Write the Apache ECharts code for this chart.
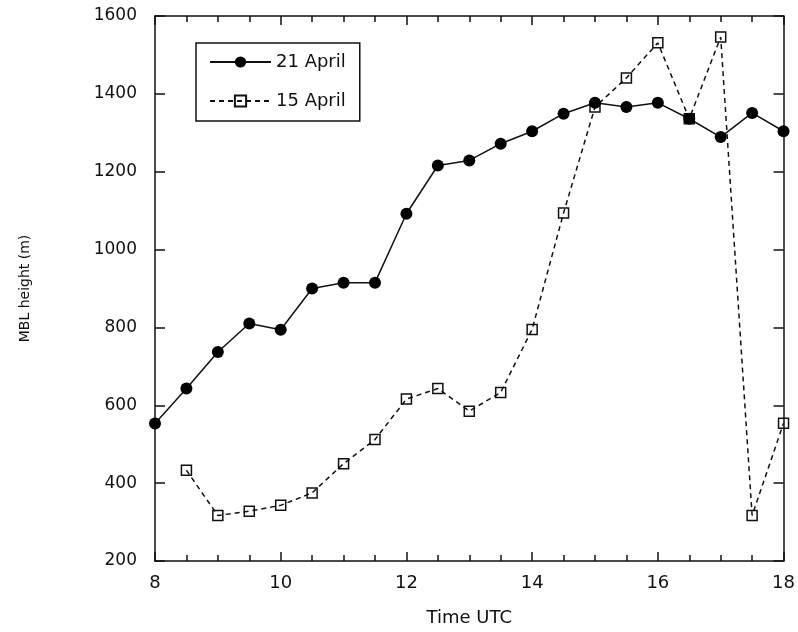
<!DOCTYPE html>
<html>
<head>
<meta charset="utf-8">
<script src="https://cdn.jsdelivr.net/npm/echarts@6/dist/echarts.min.js"></script>
<style>html,body{margin:0;padding:0;background:#fff}#c{width:798px;height:632px}</style>
</head>
<body>
<div id="c"></div>
<script>
var times21 = [8, 8.5, 9, 9.5, 10, 10.5, 11, 11.5, 12, 12.5, 13, 13.5, 14, 14.5, 15, 15.5, 16, 16.5, 17, 17.5, 18];
var mbl21 = [553, 643, 737, 810, 794, 900, 915, 915, 1092, 1216, 1229, 1272, 1304, 1349, 1377, 1366, 1377, 1336, 1289, 1351, 1304];
var times15 = [8.5, 9, 9.5, 10, 10.5, 11, 11.5, 12, 12.5, 13, 13.5, 14, 14.5, 15, 15.5, 16, 16.5, 17, 17.5, 18];
var mbl15 = [433, 317, 328, 343, 375, 450, 512, 616, 643, 585, 633, 795, 1094, 1366, 1441, 1531, 1336, 1546, 317, 554];
var seriesNames = ['21 April', '15 April'];
var xAxisName = 'Time UTC';
var yAxisName = 'MBL height (m)';

function pairs(xs, ys) { return xs.map(function (x, i) { return [x, ys[i]]; }); }
function plain(v) { return String(v); }

var font = 'DejaVu Sans';
var axisCommon = {
  axisLine: { show: true, onZero: false, lineStyle: { color: '#111', width: 1.5 } },
  splitLine: { show: false }
};

var chart = echarts.init(document.getElementById('c'), null, { renderer: 'canvas' });
chart.setOption({
  animation: false,
  backgroundColor: '#fff',
  grid: { left: 155, top: 16, width: 631, height: 545, containLabel: false },
  legend: {
    orient: 'vertical',
    left: 196, top: 43,
    data: seriesNames,
    itemWidth: 61, itemHeight: 14,
    itemGap: 21,
    padding: [10, 14, 11, 13],
    borderColor: '#111', borderWidth: 1.5,
    textStyle: { fontFamily: font, fontSize: 18, color: '#111', lineHeight: 18 }
  },
  xAxis: [
    Object.assign({
      type: 'value', min: 8, max: 18, interval: 2, position: 'bottom',
      name: xAxisName, nameLocation: 'middle', nameGap: 48,
      nameTextStyle: { fontFamily: font, fontSize: 18, color: '#111' },
      axisTick: { show: true, inside: true, length: 9, lineStyle: { color: '#111', width: 1.5 } },
      minorTick: { show: true, splitNumber: 4, length: 6, lineStyle: { color: '#111', width: 1.5 } },
      axisLabel: { fontFamily: font, fontSize: 18, color: '#111', margin: 13, formatter: plain }
    }, axisCommon),
    Object.assign({
      type: 'value', min: 8, max: 18, interval: 2, position: 'top',
      axisTick: { show: true, inside: true, length: 9, lineStyle: { color: '#111', width: 1.5 } },
      minorTick: { show: true, splitNumber: 4, length: 6, lineStyle: { color: '#111', width: 1.5 } },
      axisLabel: { show: false }
    }, axisCommon)
  ],
  yAxis: [
    Object.assign({
      type: 'value', min: 200, max: 1600, interval: 200, position: 'left',
      name: yAxisName, nameLocation: 'middle', nameGap: 123, nameRotate: 90,
      nameTextStyle: { fontFamily: font, fontSize: 14, color: '#111' },
      axisTick: { show: true, inside: true, length: 10, lineStyle: { color: '#111', width: 1.5 } },
      axisLabel: { fontFamily: font, fontSize: 17, color: '#111', margin: 18, formatter: plain }
    }, axisCommon),
    Object.assign({
      type: 'value', min: 200, max: 1600, interval: 200, position: 'right',
      axisTick: { show: true, inside: true, length: 10, lineStyle: { color: '#111', width: 1.5 } },
      axisLabel: { show: false }
    }, axisCommon)
  ],
  series: [
    {
      name: seriesNames[1], type: 'line',
      xAxisIndex: 0, yAxisIndex: 0,
      data: pairs(times15, mbl15),
      symbol: 'rect', symbolSize: 10,
      itemStyle: { color: 'rgba(255,255,255,0)', borderColor: '#111', borderWidth: 1.5 },
      lineStyle: { color: '#111', width: 1.5, type: [5, 4] },
      z: 2
    },
    {
      name: seriesNames[0], type: 'line',
      xAxisIndex: 0, yAxisIndex: 0,
      data: pairs(times21, mbl21),
      symbol: 'circle', symbolSize: 12,
      itemStyle: { color: '#000', borderWidth: 0 },
      lineStyle: { color: '#111', width: 1.5, type: 'solid' },
      z: 3
    }
  ]
});
</script>
</body>
</html>
